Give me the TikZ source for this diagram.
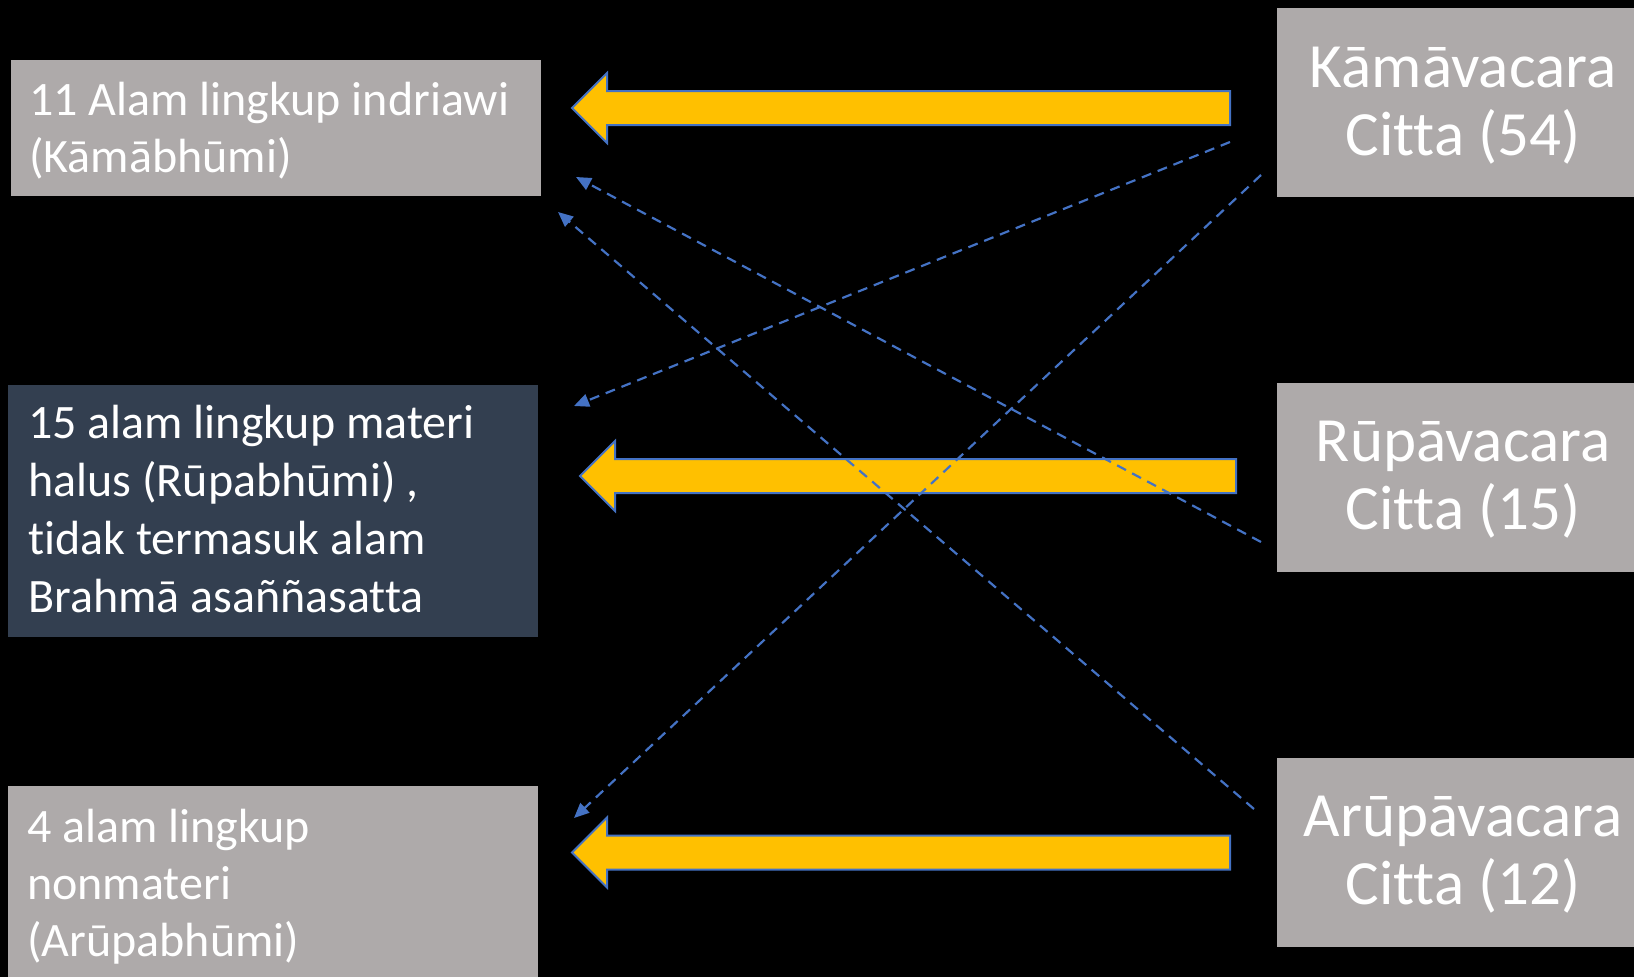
\documentclass[tikz,border=0pt]{standalone}
\usepackage{fontspec}
\setmainfont{Carlito}[Ligatures=NoCommon]
\usetikzlibrary{arrows.meta}
\definecolor{boxgray}{HTML}{AEAAAA}
\definecolor{boxdark}{HTML}{333F50}
\definecolor{arrowyellow}{HTML}{FFC000}
\definecolor{lineblue}{HTML}{4472C4}
\begin{document}
\begin{tikzpicture}[x=1pt,y=-1pt,
  boxbase/.style={draw=none, inner sep=0pt, outer sep=0pt, anchor=north west},
  graybox/.style={boxbase, fill=boxgray},
  darkbox/.style={boxbase, fill=boxdark},
  lefttext/.style={text=white, inner sep=0pt, anchor=base west, font=\fontsize{48}{57}\selectfont},
  righttext/.style={text=white, inner sep=0pt, anchor=base, font=\fontsize{63}{68}\selectfont},
  yarrow/.style={fill=arrowyellow, draw=lineblue, line width=2pt, line join=miter},
  dashlink/.style={draw=lineblue, line width=2.2pt, dash pattern=on 10pt off 7pt, -{Triangle[length=15pt,width=13pt]}}
]
\useasboundingbox (0,0) rectangle (1634,977);
\fill[black] (0,0) rectangle (1634,977);

% left boxes
\node[graybox, minimum width=530pt, minimum height=135.5pt] (kama) at (11,60) {};
\node[darkbox, minimum width=529.5pt, minimum height=252pt] (rupa) at (8,385) {};
\node[graybox, minimum width=529.5pt, minimum height=200pt] (arupa) at (8,786) {};

% right boxes
\node[graybox, minimum width=370pt, minimum height=189pt] (kamaC) at (1277,8) {};
\node[graybox, minimum width=370pt, minimum height=189pt] (rupaC) at (1277,383) {};
\node[graybox, minimum width=370pt, minimum height=189pt] (arupaC) at (1277,758) {};

% left texts
\node[lefttext] (k1) at (29,115) {11 Alam lingkup indriawi};
\node[lefttext] (k2) at (29,172) {(Kāmābhūmi)};
\node[lefttext] (r1) at (28,438) {15 alam lingkup materi};
\node[lefttext] (r2) at (28,496) {halus (Rūpabhūmi) ,};
\node[lefttext] (r3) at (28,554) {tidak termasuk alam};
\node[lefttext] (r4) at (28,612) {Brahmā asaññasatta};
\node[lefttext] (a1) at (27,842) {4 alam lingkup};
\node[lefttext] (a2) at (27,899) {nonmateri};
\node[lefttext] (a3) at (27,956) {(Arūpabhūmi)};

% right texts
\node[righttext] (kc1) at (1463,87) {Kāmāvacara};
\node[righttext] (kc2) at (1463,155) {Citta (54)};
\node[righttext] (rc1) at (1463,461) {Rūpāvacara};
\node[righttext] (rc2) at (1463,529) {Citta (15)};
\node[righttext] (ac1) at (1463,836) {Arūpāvacara};
\node[righttext] (ac2) at (1463,904) {Citta (12)};

% yellow block arrows
\coordinate (tipA) at (572,108);
\coordinate (tipB) at (580,476);
\coordinate (tipC) at (572,852.5);
\draw[yarrow] (tipA) -- ++(35,-35) -- ++(0,18) -- ++(623,0) -- ++(0,34) -- ++(-623,0) -- ++(0,18) -- cycle;
\draw[yarrow] (tipB) -- ++(35,-35) -- ++(0,18) -- ++(621,0) -- ++(0,34) -- ++(-621,0) -- ++(0,18) -- cycle;
\draw[yarrow] (tipC) -- ++(35,-35) -- ++(0,18) -- ++(623,0) -- ++(0,34) -- ++(-623,0) -- ++(0,18) -- cycle;

% dashed links
\coordinate (d1s) at (1230,142); \coordinate (d1e) at (574,406);
\coordinate (d2s) at (1261,175); \coordinate (d2e) at (574,818);
\coordinate (d3s) at (1261,542); \coordinate (d3e) at (576,177);
\coordinate (d4s) at (1254,809); \coordinate (d4e) at (558,212);
\draw[dashlink] (d1s) -- (d1e);
\draw[dashlink] (d2s) -- (d2e);
\draw[dashlink] (d3s) -- (d3e);
\draw[dashlink] (d4s) -- (d4e);
\end{tikzpicture}
\end{document}
